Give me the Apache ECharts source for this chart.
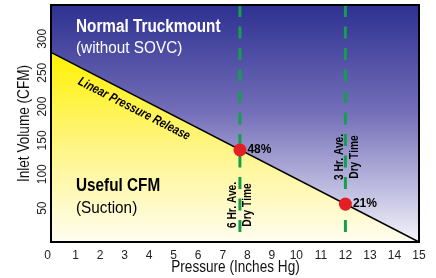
<!DOCTYPE html>
<html>
<head>
<meta charset="utf-8">
<script src="https://cdn.jsdelivr.net/npm/echarts@6/dist/echarts.min.js"></script>
<style>
  html, body { margin: 0; padding: 0; background: #fff; }
  #chart { width: 436px; height: 278px; }
</style>
</head>
<body>
<div id="chart"></div>
<script>
// pressure vs inlet volume
const xRange = [0, 15];
const yRange = [0, 350];
const releaseLine = [[0, 280], [15, 0]];
const dryTimeX = [7.7, 12];
const dotPoints = [[7.7, 136], [12, 56]];
const dotLabels = ['48%', '21%'];

const FONT = '"Liberation Sans", Arial, sans-serif';
const chart = echarts.init(document.getElementById('chart'), null, { renderer: 'canvas' });

const dashSeries = dryTimeX.map((x) => ({
  type: 'line',
  data: [[x, yRange[1]], [x, 0]],
  symbol: 'none',
  silent: true,
  lineStyle: { color: '#12a04c', width: 3, type: [12, 9.5] },
  z: 4
}));

// condensed look: squeeze text along its own direction
const label = (text, x, y, font, fill, sx, extra) => Object.assign({
  type: 'text', z: 50, x, y, scaleX: sx, scaleY: 1,
  style: { text, fill, font: font + ' ' + FONT, align: 'left', verticalAlign: 'middle' }
}, extra || {});

const option = {
  animation: false,
  grid: { left: 51, right: 17, top: 5, bottom: 36, outerBoundsMode: 'none' },
  xAxis: {
    type: 'value',
    min: xRange[0], max: xRange[1], interval: 1,
    axisLine: { show: false },
    axisTick: { show: false },
    splitLine: { show: false },
    axisLabel: { fontFamily: FONT, fontSize: 12, color: '#222', margin: 8, alignMinLabel: 'right' }
  },
  yAxis: {
    type: 'value',
    min: yRange[0], max: yRange[1], interval: 50,
    axisLine: { show: false },
    axisTick: { show: false },
    splitLine: { show: false },
    axisLabel: {
      rotate: 90, margin: 2, fontFamily: FONT, fontSize: 12, color: '#222',
      formatter: (v) => (v === 0 || v === yRange[1]) ? '' : String(v)
    }
  },
  series: [
    {
      type: 'line',
      data: [[xRange[0], yRange[1]], [xRange[1], yRange[1]]],
      symbol: 'none', silent: true,
      lineStyle: { width: 0 },
      areaStyle: {
        opacity: 1,
        color: new echarts.graphic.LinearGradient(0, 0, 0, 1, [
          { offset: 0, color: '#2e3192' },
          { offset: 0.45, color: '#736eb8' },
          { offset: 0.8, color: '#c4c2e3' },
          { offset: 1, color: '#f4f4fa' }
        ])
      },
      z: 1
    },
    {
      type: 'line',
      data: releaseLine,
      symbol: 'none', silent: true,
      lineStyle: { color: '#000', width: 1.5 },
      areaStyle: {
        opacity: 1,
        color: new echarts.graphic.LinearGradient(0, 0, 0, 1, [
          { offset: 0, color: '#fff100' },
          { offset: 0.5, color: '#fff585' },
          { offset: 1, color: '#fffdf0' }
        ])
      },
      z: 2
    },
    ...dashSeries,
    {
      type: 'scatter',
      data: dotPoints,
      symbolSize: 13,
      itemStyle: { color: '#e31e24', opacity: 1 },
      label: {
        show: true, position: 'right', distance: 1,
        formatter: (p) => dotLabels[p.dataIndex],
        fontFamily: FONT, fontSize: 12, fontWeight: 'bold', color: '#000'
      },
      z: 6
    }
  ],
  graphic: [
    { type: 'rect', z: 100, shape: { x: 51, y: 5, width: 368, height: 237 },
      style: { fill: null, stroke: '#000', lineWidth: 2 } },
    label('Normal Truckmount', 76, 27, 'bold 18px', '#fff', 0.85),
    label('(without SOVC)', 76, 48, '17px', '#fff', 0.9),
    label('Useful CFM', 76, 186, 'bold 18px', '#000', 0.85),
    label('(Suction)', 76, 208, '17px', '#000', 0.9),
    label('', 235.5, 268, '', '#111', 0.85,
      { style: { text: 'Pressure (Inches Hg)', fill: '#111', font: '16px ' + FONT, align: 'center', verticalAlign: 'middle' } }),
    label('', 25, 123.5, '', '#111', 0.85,
      { rotation: Math.PI / 2,
        style: { text: 'Inlet Volume (CFM)', fill: '#111', font: '16px ' + FONT, align: 'center', verticalAlign: 'middle' } }),
    label('', 134, 109, '', '#000', 0.82,
      { rotation: -27 * Math.PI / 180,
        style: { text: 'Linear Pressure Release', fill: '#000', font: 'italic bold 13px ' + FONT,
          align: 'center', verticalAlign: 'middle' } }),
    label('', 240, 205, '', '#000', 0.85,
      { rotation: Math.PI / 2,
        style: { text: '6 Hr. Ave.\nDry Time', fill: '#000', font: 'bold 12px ' + FONT,
          align: 'center', verticalAlign: 'middle', lineHeight: 15 } }),
    label('', 347, 157, '', '#000', 0.85,
      { rotation: Math.PI / 2,
        style: { text: '3 Hr. Ave.\nDry Time', fill: '#000', font: 'bold 12px ' + FONT,
          align: 'center', verticalAlign: 'middle', lineHeight: 15 } })
  ]
};
chart.setOption(option);
</script>
</body>
</html>
